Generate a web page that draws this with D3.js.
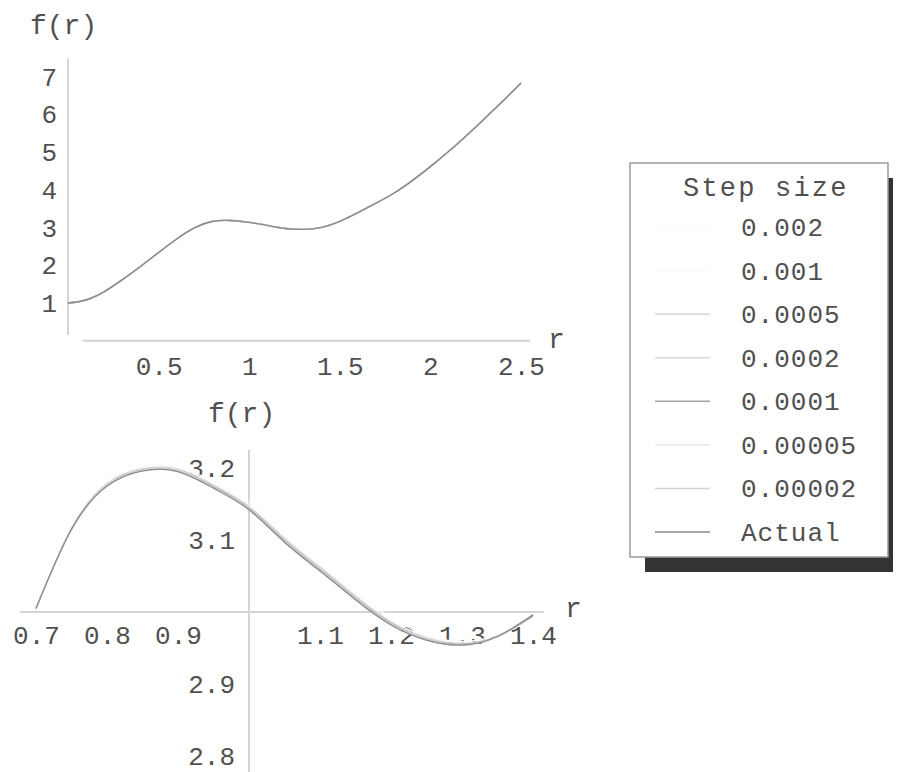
<!DOCTYPE html>
<html>
<head>
<meta charset="utf-8">
<script src="https://cdn.jsdelivr.net/npm/d3@7"></script>
<style>
  body { margin: 0; background: #fff; }
  svg { display: block; }
</style>
</head>
<body>
<script>
// legend entries (step sizes) and the grey each one came out as in the scan
var stepLabels = ["0.002", "0.001", "0.0005", "0.0002", "0.0001", "0.00005", "0.00002", "Actual"];
var stepColors = ["#fbfbfb", "#f9f9f9", "#cdcdcd", "#dadada", "#a4a4a4", "#e2e2e2", "#d2d2d2", "#8a8a8a"];

// top plot, r from 0 to 2.5
var rTop = [0, 0.1, 0.2, 0.3, 0.4, 0.5, 0.6, 0.7, 0.8, 0.9, 1.0, 1.1, 1.2, 1.3, 1.4, 1.5, 1.6, 1.7, 1.8, 1.9, 2.0, 2.1, 2.2, 2.3, 2.4, 2.5];
var fTop0002 = [1.00, 1.08, 1.30, 1.63, 1.99, 2.36, 2.72, 3.02, 3.20, 3.22, 3.17, 3.09, 3.01, 2.97, 3.02, 3.17, 3.40, 3.65, 3.92, 4.25, 4.62, 5.02, 5.45, 5.90, 6.36, 6.84];
var fTop0001 = [1.00, 1.08, 1.30, 1.62, 1.98, 2.35, 2.71, 3.01, 3.19, 3.21, 3.16, 3.08, 3.00, 2.96, 3.01, 3.17, 3.40, 3.65, 3.92, 4.25, 4.62, 5.02, 5.45, 5.90, 6.36, 6.84];
var fTopActual = [1.00, 1.08, 1.30, 1.62, 1.97, 2.34, 2.70, 3.00, 3.17, 3.19, 3.14, 3.06, 2.98, 2.955, 3.01, 3.17, 3.40, 3.65, 3.92, 4.25, 4.62, 5.02, 5.45, 5.90, 6.36, 6.84];
var topXTicks = [0.5, 1, 1.5, 2, 2.5];
var topYTicks = [1, 2, 3, 4, 5, 6, 7];

// bottom plot, zoom on 0.7 .. 1.4
var rBottom = [0.70, 0.75, 0.80, 0.85, 0.90, 0.95, 1.00, 1.05, 1.10, 1.15, 1.20, 1.25, 1.30, 1.35, 1.40];
var fBot0002 = [3.005, 3.119, 3.181, 3.203, 3.202, 3.181, 3.152, 3.108, 3.068, 3.028, 2.992, 2.968, 2.959, 2.968, 2.990];
var fBot0001 = [3.005, 3.117, 3.179, 3.201, 3.200, 3.178, 3.148, 3.104, 3.064, 3.024, 2.988, 2.966, 2.957, 2.967, 2.993];
var fBot00005 = [3.005, 3.116, 3.178, 3.199, 3.198, 3.176, 3.146, 3.102, 3.062, 3.022, 2.986, 2.964, 2.956, 2.967, 2.994];
var fBot00002 = [3.005, 3.116, 3.177, 3.198, 3.197, 3.175, 3.145, 3.100, 3.060, 3.020, 2.985, 2.963, 2.955, 2.966, 2.995];
var fBot00001 = [3.005, 3.115, 3.176, 3.197, 3.196, 3.174, 3.144, 3.099, 3.059, 3.019, 2.984, 2.962, 2.955, 2.966, 2.995];
var fBot000005 = [3.005, 3.115, 3.176, 3.197, 3.196, 3.173, 3.143, 3.098, 3.058, 3.018, 2.983, 2.962, 2.954, 2.966, 2.996];
var fBot000002 = [3.005, 3.115, 3.175, 3.196, 3.195, 3.173, 3.143, 3.098, 3.058, 3.018, 2.983, 2.961, 2.954, 2.966, 2.996];
var fBotActual = [3.005, 3.115, 3.175, 3.196, 3.195, 3.172, 3.142, 3.097, 3.057, 3.017, 2.982, 2.961, 2.954, 2.966, 2.996];
var bottomXTicks = [0.7, 0.8, 0.9, 1.1, 1.2, 1.3, 1.4];
var bottomYTicks = [2.8, 2.9, 3.1, 3.2];

var topSeries = [fTop0002, fTop0001, fTopActual, fTopActual, fTopActual, fTopActual, fTopActual, fTopActual];
var bottomSeries = [fBot0002, fBot0001, fBot00005, fBot00002, fBot00001, fBot000005, fBot000002, fBotActual];

var mono = "'Liberation Mono', 'DejaVu Sans Mono', monospace";
var textColor = "#505050";
var axisColor = "#d4d4d4";

var w = 906;
var h = 772;

var svg = d3.select("body").append("svg")
    .attr("width", w)
    .attr("height", h);

function zip(xs, ys) {
    return xs.map(function(x, i) { return [x, ys[i]]; });
}

function axisLine(x1, y1, x2, y2) {
    svg.append("line")
        .attr("x1", x1).attr("y1", y1)
        .attr("x2", x2).attr("y2", y2)
        .attr("stroke", axisColor)
        .attr("stroke-width", 2);
}

function styleTicks(g) {
    g.select(".domain").remove();
    g.selectAll("text")
        .attr("font-family", mono)
        .attr("font-size", 26)
        .attr("fill", textColor);
}

function label(txt, x, y, size) {
    svg.append("text")
        .text(txt)
        .attr("x", x)
        .attr("y", y)
        .attr("font-family", mono)
        .attr("font-size", size)
        .attr("fill", textColor);
}

// ---------- top plot ----------
var xTop = d3.scaleLinear().domain([0, 2.5]).range([68, 521]);
var yTop = d3.scaleLinear().domain([0, 7]).range([340.7, 77]);

axisLine(xTop(0.08), yTop(0), xTop(2.55), yTop(0));
axisLine(xTop(0), yTop(7.5), xTop(0), yTop(0.15));

svg.append("g")
    .attr("transform", "translate(0," + yTop(0) + ")")
    .call(d3.axisBottom(xTop).tickValues(topXTicks).tickSize(0).tickPadding(16).tickFormat(function(d) { return String(d); }))
    .call(styleTicks);

svg.append("g")
    .attr("transform", "translate(" + xTop(0) + ",0)")
    .call(d3.axisLeft(yTop).tickValues(topYTicks).tickSize(0).tickPadding(11).tickFormat(function(d) { return String(d); }))
    .call(styleTicks);

label("f(r)", 30, 34, 28);
label("r", 548, 348, 28);

var lineTop = d3.line()
    .x(function(d) { return xTop(d[0]); })
    .y(function(d) { return yTop(d[1]); })
    .curve(d3.curveNatural);

topSeries.forEach(function(vals, i) {
    svg.append("path")
        .attr("d", lineTop(zip(rTop, vals)))
        .attr("fill", "none")
        .attr("stroke", stepColors[i])
        .attr("stroke-width", 1.4);
});

// ---------- bottom plot ----------
var xBot = d3.scaleLinear().domain([0.7, 1.4]).range([36, 533]);
var yBot = d3.scaleLinear().domain([2.8, 3.2]).range([756, 468]);

axisLine(xBot(0.677), yBot(3), xBot(1.415), yBot(3));
axisLine(xBot(1), yBot(3.225), xBot(1), h);

svg.append("g")
    .attr("transform", "translate(0," + yBot(3) + ")")
    .call(d3.axisBottom(xBot).tickValues(bottomXTicks).tickSize(0).tickPadding(14).tickFormat(d3.format(".1f")))
    .call(styleTicks);

svg.append("g")
    .attr("transform", "translate(" + xBot(1) + ",0)")
    .call(d3.axisLeft(yBot).tickValues(bottomYTicks).tickSize(0).tickPadding(14).tickFormat(d3.format(".1f")))
    .call(styleTicks);

label("f(r)", 208, 422, 28);
label("r", 565, 617, 28);

var lineBot = d3.line()
    .x(function(d) { return xBot(d[0]); })
    .y(function(d) { return yBot(d[1]); })
    .curve(d3.curveNatural);

bottomSeries.forEach(function(vals, i) {
    svg.append("path")
        .attr("d", lineBot(zip(rBottom, vals)))
        .attr("fill", "none")
        .attr("stroke", stepColors[i])
        .attr("stroke-width", 1.3);
});

// ---------- legend ----------
var lx = 630, ly = 163, lw = 258, lh = 394;

// drop shadow: thick along the bottom, thin on the right
svg.append("rect")
    .attr("x", lx + 15).attr("y", ly + 15)
    .attr("width", lw - 10).attr("height", lh)
    .attr("fill", "#333");

svg.append("rect")
    .attr("x", lx).attr("y", ly)
    .attr("width", lw).attr("height", lh)
    .attr("fill", "#fff")
    .attr("stroke", "#9a9a9a")
    .attr("stroke-width", 1.5);

svg.append("text")
    .text("Step size")
    .attr("x", 683)
    .attr("y", 196)
    .attr("font-family", mono)
    .attr("font-size", 27)
    .attr("letter-spacing", 2.2)
    .attr("fill", textColor);

var rowY = d3.scaleLinear().domain([0, 7]).range([228, 533]);

stepLabels.forEach(function(name, i) {
    svg.append("line")
        .attr("x1", 655).attr("x2", 710)
        .attr("y1", rowY(i) - 1).attr("y2", rowY(i) - 1)
        .attr("stroke", stepColors[i])
        .attr("stroke-width", 1.4);
    svg.append("text")
        .text(name)
        .attr("x", 741)
        .attr("y", rowY(i) + 8)
        .attr("font-family", mono)
        .attr("font-size", 26)
        .attr("letter-spacing", 1)
        .attr("fill", textColor);
});
</script>
</body>
</html>
